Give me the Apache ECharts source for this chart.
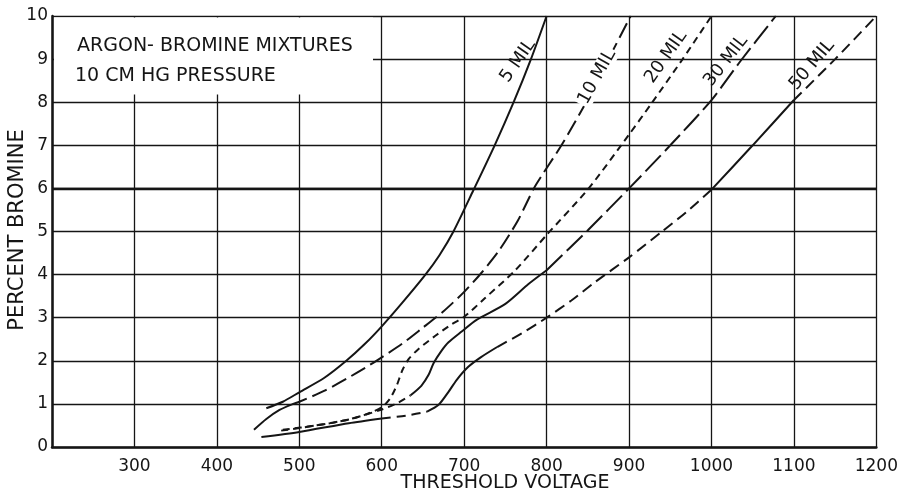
<!DOCTYPE html>
<html>
<head>
<meta charset="utf-8">
<title>Argon-Bromine Mixtures</title>
<script src="https://cdn.jsdelivr.net/npm/echarts@6/dist/echarts.min.js"></script>
<style>
  html, body { margin: 0; padding: 0; background: #fff; }
  #main { width: 901px; height: 496px; }
</style>
</head>
<body>
<div id="main"></div>
<script>
// values: [threshold voltage, percent bromine]
var mil5 = [[460, 0.9], [480, 1.05], [500, 1.27], [530, 1.6], [557, 2.0], [580, 2.4], [600, 2.8],
  [625, 3.35], [653, 4.0], [670, 4.45], [687, 5.0], [711, 5.95], [737, 7.0], [760, 8.0], [781, 9.0], [800, 10]];
var mil10 = [[445, 0.4], [460, 0.65], [476, 0.86], [491, 0.99], [500, 1.05], [530, 1.3], [557, 1.58],
  [580, 1.84], [600, 2.08], [625, 2.4], [648, 2.74], [675, 3.15], [700, 3.6], [720, 4.02], [742, 4.55],
  [765, 5.25], [786, 6.05], [818, 7.0], [848, 8.0], [875, 9.0], [902, 10]];
var mil20 = [[478, 0.38], [500, 0.44], [520, 0.5], [540, 0.56], [560, 0.64], [580, 0.75], [600, 0.92],
  [610, 1.12], [618, 1.42], [625, 1.78], [633, 2.05], [645, 2.28], [665, 2.58], [685, 2.85], [700, 3.02],
  [725, 3.45], [762, 4.1], [800, 4.92], [851, 6.0], [900, 7.25], [926, 7.94], [965, 9.0], [1000, 10]];
var mil30 = [[480, 0.4], [520, 0.5], [560, 0.64], [600, 0.87], [620, 1.03], [635, 1.2], [648, 1.42],
  [657, 1.68], [663, 1.95], [672, 2.22], [681, 2.43], [697, 2.68], [715, 2.95], [750, 3.32], [778, 3.78],
  [800, 4.1], [850, 5.03], [900, 6.0], [950, 7.0], [1000, 8.05], [1035, 8.95], [1078, 10]];
var mil50 = [[454, 0.23], [500, 0.35], [560, 0.55], [600, 0.66], [630, 0.73], [655, 0.82], [669, 0.98],
  [681, 1.28], [691, 1.56], [705, 1.86], [720, 2.08], [740, 2.32], [770, 2.64], [800, 3.0], [830, 3.4],
  [859, 3.83], [900, 4.4], [940, 5.0], [970, 5.46], [1000, 5.97], [1050, 7.0], [1100, 8.05], [1150, 9.0], [1200, 10]];

var xTickLabels = [300, 400, 500, 600, 700, 800, 900, 1000, 1100, 1200];
var yTickLabels = [0, 1, 2, 3, 4, 5, 6, 7, 8, 9, 10];
var curveNames = ['5 MIL', '10 MIL', '20 MIL', '30 MIL', '50 MIL'];

var ink = '#151515';
var font = '"DejaVu Sans", "Liberation Sans", sans-serif';

// how each curve is drawn: pieces up to a voltage, solid or dashed
var pieces = [
  [[800, 'solid']],
  [[491, 'solid'], [902, [16, 6]]],
  [[1000, [7, 5]]],
  [[635, [7, 5]], [800, 'solid'], [1078, [22, 6]]],
  [[600, 'solid'], [655, [9, 6]], [740, 'solid'], [1000, [11, 6]], [1100, 'solid'], [1200, [11, 6]]]
];
var curves = [mil5, mil10, mil20, mil30, mil50];

function split(data, parts) {
  var out = [];
  var from = -Infinity;
  parts.forEach(function (p) {
    var seg = data.filter(function (d) { return d[0] >= from && d[0] <= p[0]; });
    out.push({ data: seg, type: p[1] });
    from = p[0];
  });
  return out;
}

var series = [];
curves.forEach(function (c, i) {
  split(c, pieces[i]).forEach(function (seg) {
    series.push({
      name: curveNames[i],
      type: 'line',
      data: seg.data,
      smooth: 0.25,
      showSymbol: false,
      silent: true,
      lineStyle: { color: ink, width: 2, type: seg.type },
      z: 5
    });
  });
});

// the heavier rule at 6 percent
series[0].markLine = {
  silent: true,
  symbol: ['none', 'none'],
  label: { show: false },
  lineStyle: { color: ink, width: 2.4, type: 'solid' },
  data: [{ yAxis: 6 }]
};

// label centre (px), angle (deg), and whether it breaks the line
var labelPos = [
  [518, 61, 55, false], [597, 77, 61, true], [666, 57, 55, false], [726, 61, 52, false], [812, 65, 50, false]
];
var graphics = [
  {
    type: 'rect', z: 100,
    shape: { x: 54, y: 17.5, width: 319, height: 77 },
    style: { fill: '#fff' }
  },
  {
    type: 'text', z: 101, x: 77, y: 46,
    style: { text: 'ARGON- BROMINE MIXTURES', fill: ink, fontSize: 19, fontFamily: font, textVerticalAlign: 'middle' }
  },
  {
    type: 'text', z: 101, x: 75, y: 76,
    style: { text: '10 CM HG PRESSURE', fill: ink, fontSize: 19, fontFamily: font, textVerticalAlign: 'middle' }
  },
  {
    type: 'text', z: 101, x: 505, y: 483,
    style: { text: 'THRESHOLD VOLTAGE', fill: ink, fontSize: 19, fontFamily: font, textAlign: 'center', textVerticalAlign: 'middle' }
  },
  {
    type: 'text', z: 101, x: 18, y: 230, rotation: Math.PI / 2,
    style: { text: 'PERCENT BROMINE', fill: ink, fontSize: 21, fontFamily: font, textAlign: 'center', textVerticalAlign: 'middle' }
  }
];
curveNames.forEach(function (n, i) {
  var p = labelPos[i];
  graphics.push({
    type: 'text', z: 101,
    x: p[0], y: p[1],
    rotation: p[2] * Math.PI / 180,
    style: {
      text: n, fill: ink, fontSize: 18, fontFamily: font,
      textAlign: 'center', textVerticalAlign: 'middle',
      backgroundColor: p[3] ? '#fff' : 'transparent', padding: [0, 2]
    }
  });
});

var myChart = echarts.init(document.getElementById('main'), null, { renderer: 'canvas' });
var option = {
  backgroundColor: '#fff',
  animation: false,
  grid: { left: 52, right: 23, top: 16, bottom: 49, containLabel: false },
  xAxis: {
    type: 'value',
    min: 200,
    max: 1200,
    interval: 100,
    axisLine: { onZero: false, lineStyle: { color: ink, width: 2.5 } },
    axisTick: { show: false },
    splitLine: { show: true, lineStyle: { color: ink, width: 1.3 } },
    axisLabel: {
      color: ink, fontSize: 17, fontFamily: font, margin: 11,
      formatter: function (v) { return xTickLabels.indexOf(v) >= 0 ? String(v) : ''; }
    }
  },
  yAxis: {
    type: 'value',
    min: 0,
    max: 10,
    interval: 1,
    axisLine: { show: true, onZero: false, lineStyle: { color: ink, width: 2.5 } },
    axisTick: { show: false },
    splitLine: { show: true, lineStyle: { color: ink, width: 1.3 } },
    axisLabel: {
      color: ink, fontSize: 17, fontFamily: font, margin: 4,
      formatter: function (v) { return yTickLabels.indexOf(v) >= 0 ? String(v) : ''; }
    }
  },
  graphic: graphics,
  series: series
};
myChart.setOption(option);
</script>
</body>
</html>
